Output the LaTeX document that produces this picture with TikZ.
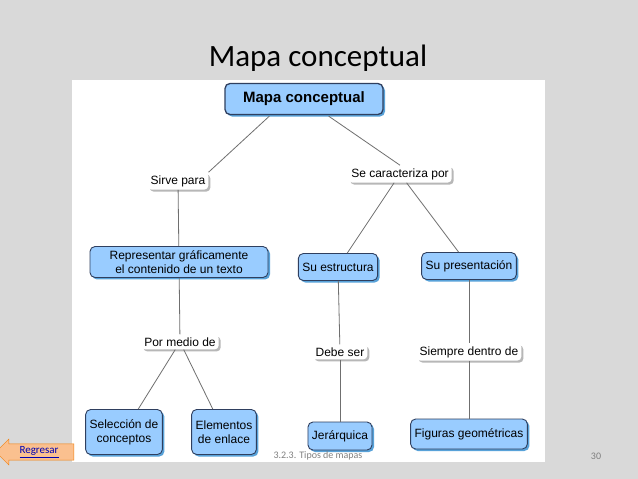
\documentclass[tikz,border=0pt]{standalone}
\usepackage{fontspec}
\setmainfont{Liberation Sans}
\newfontfamily\slidefont{Carlito}
\usetikzlibrary{shadows,shapes.arrows}
\definecolor{conceptfill}{HTML}{99CCFF}
\definecolor{conceptline}{HTML}{2F3F5F}
\definecolor{slidegray}{HTML}{D9D9D9}
\definecolor{linkgray}{HTML}{6F6F6F}
\definecolor{backarrow}{HTML}{FAC08F}
\tikzset{
  concept/.style={draw=conceptline,line width=0.9pt,fill=conceptfill,rounded corners=5pt,
    align=center,font=\fontsize{12}{14}\selectfont,inner sep=4pt,
    drop shadow={shadow xshift=2pt,shadow yshift=-2pt,fill=cyan!60!blue,opacity=0.7}},
  linker/.style={fill=white,rounded corners=4pt,font=\fontsize{12}{14}\selectfont,inner sep=3pt,
    drop shadow={shadow xshift=2pt,shadow yshift=-2pt,fill=gray!70,opacity=0.8}},
  link/.style={draw=linkgray,line width=0.8pt}
}
\begin{document}
\begin{tikzpicture}[x=1pt,y=-1pt]
  \fill[slidegray] (0,0) rectangle (638,479);
  \useasboundingbox (0,0) rectangle (638,479);
  \fill[white] (72,80) rectangle (545,462);
  \node[font=\slidefont\fontsize{31}{34}\selectfont] (title) at (318,58) {Mapa conceptual};

  % conceptos
  \node[concept,font=\bfseries\fontsize{15}{17}\selectfont,line width=1.3pt,minimum width=158pt,minimum height=31pt] (mapa) at (304,99) {Mapa conceptual};
  \node[concept,minimum width=178pt] (repr) at (179,262) {Representar gráficamente\\el contenido de un texto};
  \node[concept,minimum height=27pt] (estr) at (338,267) {Su estructura};
  \node[concept,minimum height=27pt] (pres) at (469,266) {Su presentación};
  \node[concept,minimum height=45pt] (sel) at (124,432) {Selección de\\conceptos};
  \node[concept,minimum height=45pt] (elem) at (224,432) {Elementos\\de enlace};
  \node[concept,minimum height=28pt] (jer) at (340,436) {Jerárquica};
  \node[concept,minimum height=30pt] (fig) at (469,434) {Figuras geométricas};

  % palabras de enlace
  \node[linker] (sirve) at (178,181) {Sirve para};
  \node[linker] (carac) at (400,174) {Se caracteriza por};
  \node[linker] (medio) at (180,342) {Por medio de};
  \node[linker] (debe) at (340,352) {Debe ser};
  \node[linker] (siempre) at (469,352) {Siempre dentro de};

  \draw[link] (mapa.south west) ++(45,1) -- (sirve.north east);
  \draw[link] (mapa.south east) ++(-55,1) -- (carac.north);
  \draw[link] (sirve) -- (repr);
  \draw[link] (carac) -- (estr);
  \draw[link] (carac) -- (pres);
  \draw[link] (repr) -- (medio);
  \draw[link] (medio) -- (sel);
  \draw[link] (medio) -- (elem);
  \draw[link] (estr) -- (debe);
  \draw[link] (debe) -- (jer);
  \draw[link] (pres) -- (siempre);
  \draw[link] (siempre) -- (fig);

  % pie de la diapositiva
  \node[font=\slidefont\fontsize{10}{11}\selectfont,text=gray] (foot) at (318,456) {3.2.3. Tipos de mapas};
  \node[font=\slidefont\fontsize{10}{11}\selectfont,text=gray] (page) at (596,456) {30};
  \node[single arrow,shape border rotate=180,fill=backarrow,draw=orange!80!brown,
    single arrow head extend=4pt,minimum height=78pt,minimum width=26pt,inner sep=1pt,
    font=\slidefont\fontsize{11}{12}\selectfont,text=blue!70!black] (back) at (39,452) {\underline{Regresar}};
\end{tikzpicture}
\end{document}
